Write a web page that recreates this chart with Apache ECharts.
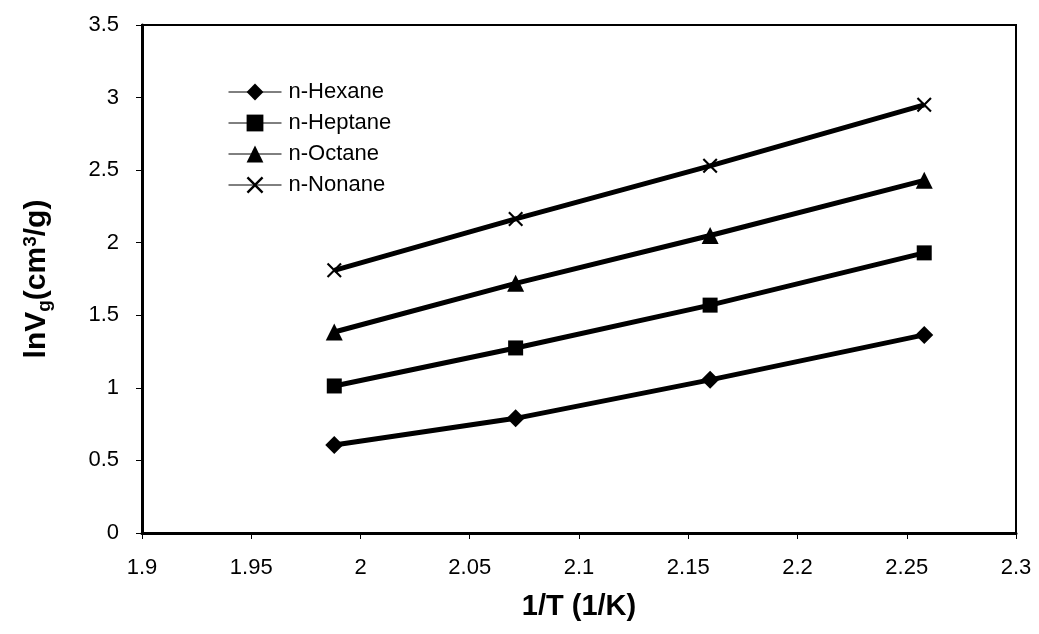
<!DOCTYPE html>
<html>
<head>
<meta charset="utf-8">
<script src="https://cdn.jsdelivr.net/npm/echarts@6/dist/echarts.min.js"></script>
<style>
  html, body { margin: 0; padding: 0; background: #fff; }
  #chart { width: 1039px; height: 634px; }
</style>
</head>
<body>
<div id="chart"></div>
<script>
// Inverse temperature (1/K, x1000) and retention volumes for each alkane
const invT = [1.988, 2.071, 2.160, 2.258];
const hexane = [0.606, 0.79, 1.055, 1.365];
const heptane = [1.013, 1.275, 1.57, 1.93];
const octane = [1.385, 1.72, 2.05, 2.43];
const nonane = [1.81, 2.164, 2.53, 2.95];
const seriesNames = ['n-Hexane', 'n-Heptane', 'n-Octane', 'n-Nonane'];
const xTicks = [1.9, 1.95, 2, 2.05, 2.1, 2.15, 2.2, 2.25, 2.3];
const yTicks = [0, 0.5, 1, 1.5, 2, 2.5, 3, 3.5];

const crossPath = 'path://M0,1L1,0L5,4L9,0L10,1L6,5L10,9L9,10L5,6L1,10L0,9L4,5Z';
const symbols = ['diamond', 'rect', 'triangle', crossPath];
const symbolSizes = [18, 15, 17, 15];
const values = [hexane, heptane, octane, nonane];

const font = 'Liberation Sans, Arial, sans-serif';

const chart = echarts.init(document.getElementById('chart'), null, { renderer: 'canvas' });

chart.setOption({
  backgroundColor: '#fff',
  animation: false,
  grid: {
    left: 142, right: 23, top: 25, bottom: 101,
    show: true, borderColor: '#000', borderWidth: 2
  },
  legend: {
    orient: 'vertical',
    left: 228, top: 81,
    padding: 0,
    itemWidth: 53, itemHeight: 21, itemGap: 9,
    data: seriesNames,
    textStyle: { fontFamily: font, fontSize: 22, lineHeight: 22, color: '#000', padding: [0, 0, 0, 2] },
    lineStyle: { width: 1, color: '#000' },
    itemStyle: { color: '#000' }
  },
  xAxis: {
    type: 'value',
    min: xTicks[0], max: xTicks[xTicks.length - 1], interval: 0.05,
    name: '1/T (1/K)',
    nameLocation: 'middle', nameGap: 59,
    nameTextStyle: { fontFamily: font, fontSize: 29, fontWeight: 'bold', color: '#000' },
    axisLine: { show: true, lineStyle: { color: '#000', width: 3 } },
    axisTick: { show: true, inside: false, length: 6, lineStyle: { color: '#000', width: 1 } },
    axisLabel: { fontFamily: font, fontSize: 22, color: '#000', margin: 24 },
    splitLine: { show: false }
  },
  yAxis: {
    type: 'value',
    min: yTicks[0], max: yTicks[yTicks.length - 1], interval: 0.5,
    name: 'lnV{sub|g}(cm{sup|3}/g)',
    nameLocation: 'middle', nameGap: 88, nameRotate: 90,
    nameTextStyle: {
      fontFamily: font, fontSize: 30, fontWeight: 'bold', color: '#000',
      rich: {
        sub: { fontFamily: font, fontSize: 19, fontWeight: 'bold', color: '#000', padding: [16, 0, 0, 0] },
        sup: { fontFamily: font, fontSize: 19, fontWeight: 'bold', color: '#000', padding: [0, 0, 12, 0] }
      }
    },
    axisLine: { show: true, lineStyle: { color: '#000', width: 3 } },
    axisTick: { show: true, inside: false, length: 6, lineStyle: { color: '#000', width: 1 } },
    axisLabel: {
      fontFamily: font, fontSize: 22, color: '#000', margin: 23,
      formatter: v => String(v)
    },
    splitLine: { show: false }
  },
  series: seriesNames.map((name, i) => ({
    name,
    type: 'line',
    data: invT.map((x, j) => [x, values[i][j]]),
    symbol: symbols[i],
    symbolSize: symbolSizes[i],
    showSymbol: true,
    lineStyle: { color: '#000', width: 5 },
    itemStyle: { color: '#000' },
    emphasis: { disabled: true }
  }))
});
</script>
</body>
</html>
